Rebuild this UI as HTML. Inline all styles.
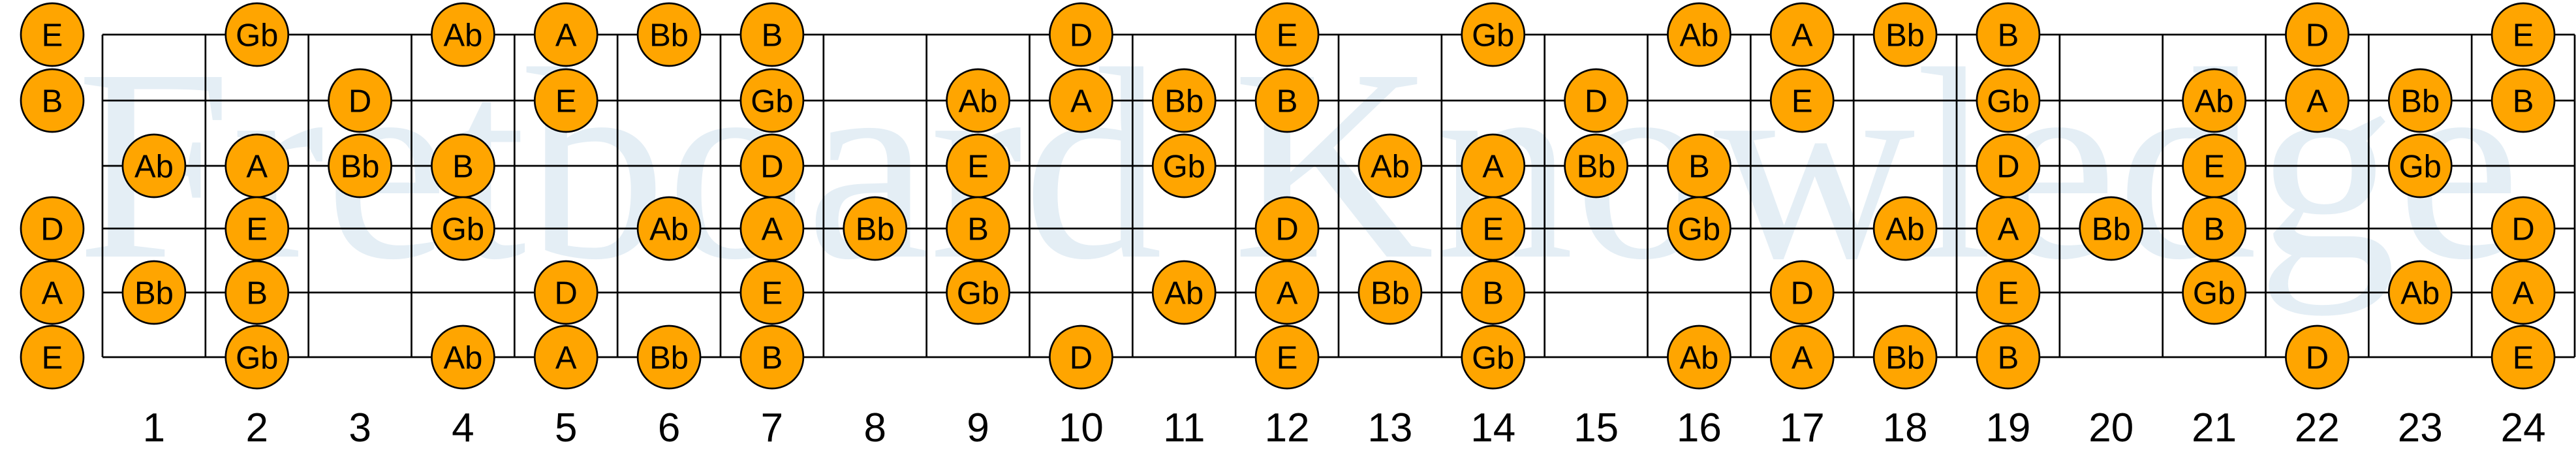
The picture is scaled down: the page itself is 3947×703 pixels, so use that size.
<!DOCTYPE html>
<html><head><meta charset="utf-8"><style>
html,body{margin:0;padding:0;background:#fff;}
svg{display:block;}
</style></head><body>
<svg id="s" width="3947" height="703" viewBox="0 0 3947 703" xmlns="http://www.w3.org/2000/svg">
<text x="117" y="393" font-family="Liberation Serif, serif" font-size="420" fill="#e4eef5" textLength="3745" lengthAdjust="spacingAndGlyphs">Fretboard Knowledge</text>
<g id="grid" stroke="#000" stroke-width="2.7" fill="none"></g>
<g id="notes"></g>
<g id="nums" font-family="Liberation Sans, sans-serif" font-size="62" text-anchor="middle" fill="#000"></g>
</svg>
<script>
var NS="http://www.w3.org/2000/svg";
var x0=157,x1=3945,fw=(x1-x0)/24;
var ys=[53,154,254,350,448,547];
var g=document.getElementById('grid');
function el(p,t,a){var e=document.createElementNS(NS,t);for(var k in a)e.setAttribute(k,a[k]);p.appendChild(e);return e;}
ys.forEach(function(y){el(g,'line',{x1:x0,y1:y,x2:x1,y2:y});});
for(var i=0;i<=24;i++){var x=x0+i*fw;el(g,'line',{x1:x,y1:ys[0],x2:x,y2:ys[5]});}
var names=['C','Db','D','Eb','E','F','Gb','G','Ab','A','Bb','B'];
var open=[4,11,7,2,9,4];
var keep={E:1,Gb:1,Ab:1,A:1,Bb:1,B:1,D:1};
var n=document.getElementById('notes');
for(var s=0;s<6;s++){for(var f=0;f<=24;f++){
 var nm=names[(open[s]+f)%12];if(!keep[nm])continue;
 var cx=f==0?80:x0+(f-0.5)*fw,cy=ys[s];
 el(n,'circle',{cx:cx,cy:cy,r:48,fill:'#ffa500',stroke:'#000','stroke-width':2.7});
 var t=el(n,'text',{x:cx,y:cy+17.5,'font-family':'Liberation Sans, sans-serif','font-size':49,'text-anchor':'middle',fill:'#000'});
 t.textContent=nm;
}}
var nu=document.getElementById('nums');
for(var f=1;f<=24;f++){var t=el(nu,'text',{x:x0+(f-0.5)*fw,y:676});t.textContent=f;}
</script>
</body></html>
